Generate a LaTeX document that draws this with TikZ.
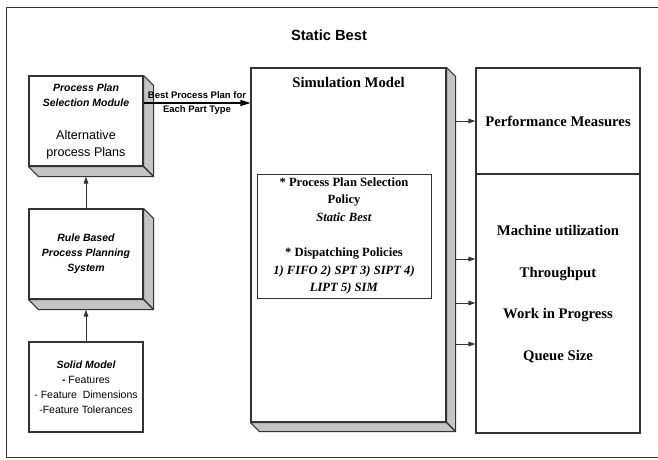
\documentclass[tikz,border=0pt]{standalone}
\usepackage{fontspec}
\setmainfont{Liberation Sans}
\newfontfamily\serifbf{Liberation Serif}
\usetikzlibrary{positioning,arrows.meta}

\definecolor{edgegray}{HTML}{333333}
\definecolor{slabgray}{HTML}{C4C4C4}

\newcommand{\hdfont}{\fontsize{10.5}{15}\selectfont\bfseries\itshape}
\newcommand{\altfont}{\fontsize{12.6}{15}\selectfont}

\tikzset{
  block/.style={draw=edgegray, line width=1.1pt, fill=white, inner sep=0pt, align=center},
  slabface/.style={draw=edgegray, line width=1.1pt, fill=slabgray, line join=round},
  flow/.style={-{Triangle[length=7pt,width=4.5pt]}, draw=edgegray, line width=1pt},
  bigflow/.style={-{Triangle[length=10pt,width=6pt]}, draw=black, line width=1.2pt},
  hdsans/.style={font=\hdfont},
  hdserif/.style={font=\fontsize{14.7}{18}\selectfont\serifbf\bfseries}
}

\newcommand{\slabfaces}[2]{%
  \filldraw[slabface] (#1.north east) -- ++(#2,#2) -- ([shift={(#2,#2)}]#1.south east) -- (#1.south east) -- cycle;
  \filldraw[slabface] (#1.south west) -- ++(#2,#2) -- ([shift={(#2,#2)}]#1.south east) -- (#1.south east) -- cycle;}

\begin{document}
\begin{tikzpicture}[x=1pt,y=-1pt]
    \useasboundingbox (0,0) rectangle (658,459);
    \draw[edgegray, line width=1pt] (662,7) -- (6,7) -- (6,457) -- (662,457);

    \node (title) at (329,35) {\fontsize{14.7}{18}\selectfont\bfseries Static Best};

    \node (ppsm) [block, minimum width=114pt, minimum height=90pt, font=\fontsize{10.5}{15}\selectfont] at (86,121)
      {\hdfont Process Plan\\\hdfont Selection Module\\[18pt]
       \altfont Alternative\\[2pt]\altfont process Plans};
    \slabfaces{ppsm}{10}

    \node (rbpps) [block, hdsans, minimum width=114pt, minimum height=90pt] at (86,254)
      {Rule Based\\Process Planning\\System};
    \slabfaces{rbpps}{10}

    \node (solid) [block, minimum width=114pt, minimum height=90pt,
      font=\fontsize{10.5}{15}\selectfont] at (86,387)
      {{\bfseries\itshape Solid Model}\\{\bfseries -} Features\\- Feature~~Dimensions\\-Feature Tolerances};

    \node (sim) [block, minimum width=195pt, minimum height=354pt] at (348.5,245) {};
    \slabfaces{sim}{9}
    \node (simtitle) [hdserif, below=6pt of sim.north] {Simulation Model};

    \node (policy) [block, line width=0.9pt, minimum width=174pt, minimum height=124pt,
      font=\fontsize{12.6}{17.6}\selectfont\serifbf\bfseries] at (344,236)
      {* Process Plan Selection\\Policy\\\textit{Static Best}\\[17.6pt]
       * Dispatching Policies\\\textit{1) FIFO 2) SPT 3) SIPT 4)}\\\textit{LIPT 5) SIM}};

    \node (perf) [block, hdserif, minimum width=164pt, minimum height=106pt] at (558,121)
      {Performance Measures};
    \node (measures) [block, minimum width=164pt, minimum height=259pt] at (558,303.5) {};
    \node (mlist) [font=\fontsize{14.7}{41.7}\selectfont\serifbf\bfseries, align=center] at (558,294)
      {Machine utilization\\Throughput\\Work in Progress\\Queue Size};

    \path ([yshift=18pt]ppsm.east) edge[bigflow] node[align=center, inner sep=0pt,
      font=\fontsize{9.5}{13.5}\selectfont\bfseries] {Best Process Plan for\\Each Part Type}
      ([yshift=18pt]ppsm.east -| sim.west);

    \path (solid.north) edge[flow] ([yshift=-10pt]rbpps.south);
    \path (rbpps.north) edge[flow] ([yshift=-10pt]ppsm.south);

    \path ([xshift=9pt]sim.east |- perf.west) edge[flow] (perf.west);
    \foreach \ya in {259,303,344}
      \path ([xshift=9pt]sim.east |- 0,\ya) edge[flow] (measures.west |- 0,\ya);
  \end{tikzpicture}
\end{document}
